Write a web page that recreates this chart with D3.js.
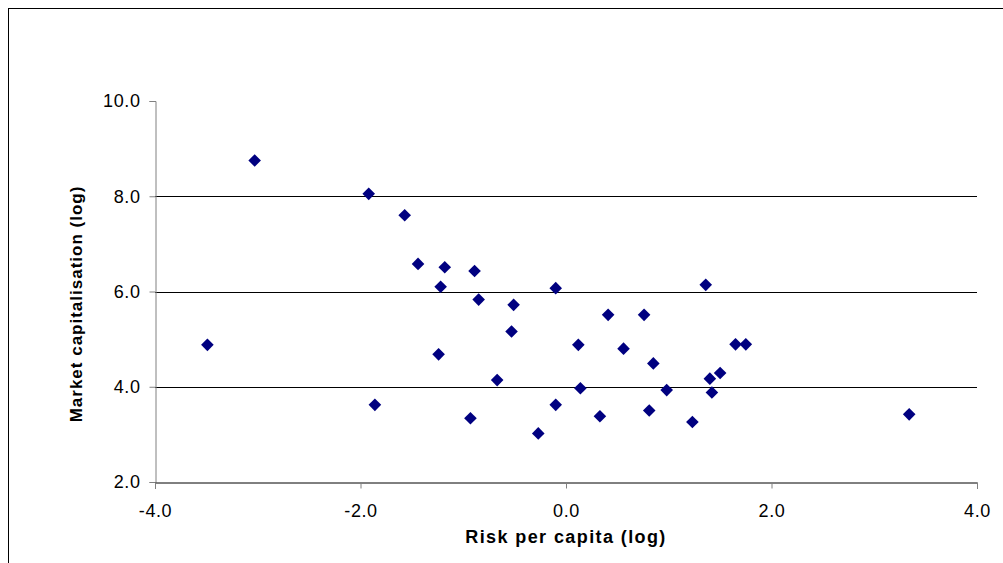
<!DOCTYPE html>
<html>
<head>
<meta charset="utf-8">
<script src="https://cdn.jsdelivr.net/npm/d3@7"></script>
<style>
  body { margin: 0; background: #fff; }
  svg { display: block; font-family: "Liberation Sans", Arial, sans-serif; }
</style>
</head>
<body>
<svg width="1003" height="563"></svg>
<script>
// Risk per capita vs market capitalisation (both log)
const riskValues = [
  -3.03, -3.49, -1.92, -1.57, -1.44, -1.18, -1.22, -0.89, -0.85, -0.51,
  -0.53, -0.10, -1.24, -0.67, -1.86, -0.93, -0.27, -0.10, 0.12, 0.14,
  1.36, 0.41, 0.76, 0.56, 0.85, 1.65, 1.75, 1.50, 1.40, 1.42,
  0.98, 0.33, 0.81, 1.23, 3.34
];
const capValues = [
  8.75, 4.88, 8.05, 7.60, 6.58, 6.51, 6.10, 6.43, 5.83, 5.72,
  5.16, 6.07, 4.68, 4.14, 3.62, 3.34, 3.02, 3.62, 4.88, 3.97,
  6.14, 5.51, 5.51, 4.80, 4.49, 4.89, 4.89, 4.29, 4.17, 3.88,
  3.93, 3.38, 3.50, 3.26, 3.42
];
const xTicks = [-4, -2, 0, 2, 4];
const yTicks = [2, 4, 6, 8, 10];

const svg = d3.select("svg");
const fmt = (d) => d.toFixed(1);

// outer chart frame
svg.append("rect")
  .attr("x", 8.5).attr("y", 8.5)
  .attr("width", 1000).attr("height", 600)
  .attr("fill", "none").attr("stroke", "#000");

const x = d3.scaleLinear().domain([-4, 4]).range([155, 977]);
const y = d3.scaleLinear().domain([2, 10]).range([482, 101]);

// gridlines
svg.append("g")
  .selectAll("line")
  .data(yTicks.filter((d) => d > 2 && d < 10))
  .enter()
  .append("line")
  .attr("x1", x(-4)).attr("x2", x(4))
  .attr("y1", (d) => Math.round(y(d)) + 0.5)
  .attr("y2", (d) => Math.round(y(d)) + 0.5)
  .attr("stroke", "#000");

// y axis
const yAxis = svg.append("g")
  .attr("transform", `translate(${x(-4) + 0.5},0)`)
  .call(d3.axisLeft(y).tickValues(yTicks).tickFormat(fmt).tickSize(6).tickPadding(9));
yAxis.select(".domain").attr("stroke", "#808080");
yAxis.selectAll(".tick line").attr("stroke", "#808080");
yAxis.selectAll("text").attr("font-size", 18).attr("fill", "#000")
  .attr("letter-spacing", 0.6)
  .attr("font-family", "Liberation Sans, Arial, sans-serif");

// x axis
const xAxis = svg.append("g")
  .attr("transform", `translate(0,${y(2) + 0.5})`)
  .call(d3.axisBottom(x).tickValues(xTicks).tickFormat(fmt).tickSize(6).tickPadding(16));
xAxis.select(".domain").attr("stroke", "#000");
xAxis.selectAll(".tick line").attr("stroke", "#808080");
xAxis.selectAll("text").attr("font-size", 18).attr("fill", "#000")
  .attr("letter-spacing", 0.6)
  .attr("font-family", "Liberation Sans, Arial, sans-serif");

// axis titles
svg.append("text")
  .attr("x", x(0)).attr("y", 543)
  .attr("text-anchor", "middle")
  .attr("font-size", 18).attr("font-weight", "bold")
  .attr("letter-spacing", 1.4)
  .text("Risk per capita (log)");

svg.append("text")
  .attr("transform", `translate(82,304) rotate(-90)`)
  .attr("text-anchor", "middle")
  .attr("font-size", 17).attr("font-weight", "bold")
  .attr("letter-spacing", 1)
  .text("Market capitalisation (log)");

// points
const points = riskValues.map((r, i) => ({ r: r, c: capValues[i] }));
svg.append("g")
  .selectAll("path")
  .data(points)
  .enter()
  .append("path")
  .attr("d", "M0,-6.3L6.3,0L0,6.3L-6.3,0Z")
  .attr("transform", (d) => `translate(${x(d.r)},${y(d.c)})`)
  .attr("fill", "#000080");
</script>
</body>
</html>
